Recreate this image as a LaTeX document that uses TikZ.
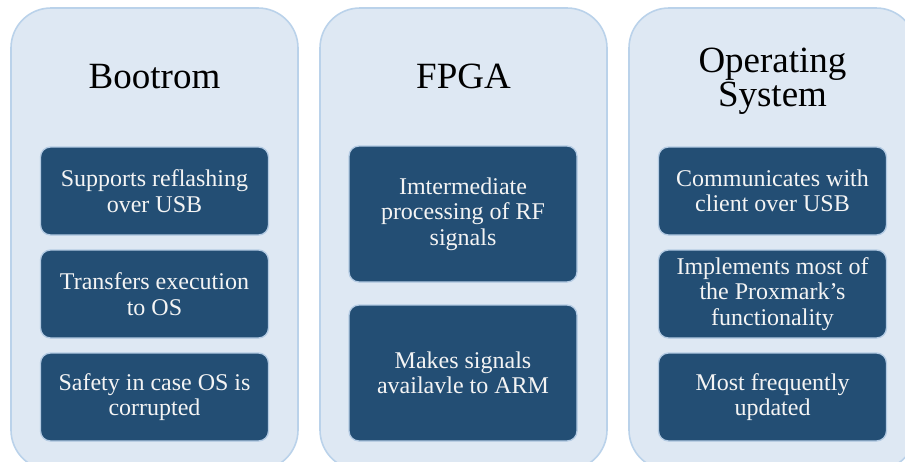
\documentclass[tikz,border=0pt]{standalone}
\usepackage{fontspec}
\setmainfont{Liberation Serif}
\definecolor{panelfill}{HTML}{DEE8F3}
\definecolor{panelborder}{HTML}{BAD2EA}
\definecolor{itemfill}{HTML}{234E74}
\definecolor{itemborder}{HTML}{B4CBE3}
\definecolor{itemtext}{HTML}{F4F4F4}
\begin{document}
\begin{tikzpicture}[x=1pt,y=-1pt,
  panel/.style={draw=panelborder, fill=panelfill, line width=1.6pt, rounded corners=40pt,
    minimum width=287pt, minimum height=462pt, inner sep=0pt},
  item/.style={draw=itemborder, fill=itemfill, line width=1.3pt, rounded corners=10pt,
    text=itemtext, align=center, font=\fontsize{24}{25.5}\selectfont, inner sep=0pt,
    minimum width=228pt},
  short/.style={item, minimum height=88pt},
  tall/.style={item, minimum height=136pt},
  title/.style={align=center, font=\fontsize{37}{34}\selectfont, text=black, inner sep=0pt}]
\useasboundingbox (0,0) rectangle (905,461);
\clip (0,0) rectangle (905,461);
% panels
\node[panel] (p1) at (154.5,239) {};
\node[panel] (p2) at (463.5,239) {};
\node[panel] (p3) at (772.5,239) {};
% titles
\node[title, anchor=base] (t1) at (154.5,88) {Bootrom};
\node[title, anchor=base] (t2) at (463.5,88) {FPGA};
\node[title, anchor=north] (t3) at (772.5,48) {Operating\\System};
% left items
\node[short] (a1) at (154.5,191) {Supports reflashing\\over USB};
\node[short] (a2) at (154.5,294) {Transfers execution\\to OS};
\node[short] (a3) at (154.5,397) {Safety in case OS is\\corrupted};
% middle items
\node[tall] (b1) at (463,214) {Imtermediate\\processing of RF\\signals};
\node[tall] (b2) at (463,373) {Makes signals\\availavle to ARM};
% right items
\node[short] (c1) at (772.5,191) {Communicates with\\client over USB};
\node[short] (c2) at (772.5,294) {Implements most of\\the Proxmark's\\functionality};
\node[short] (c3) at (772.5,397) {Most frequently\\updated};
\end{tikzpicture}
\end{document}
